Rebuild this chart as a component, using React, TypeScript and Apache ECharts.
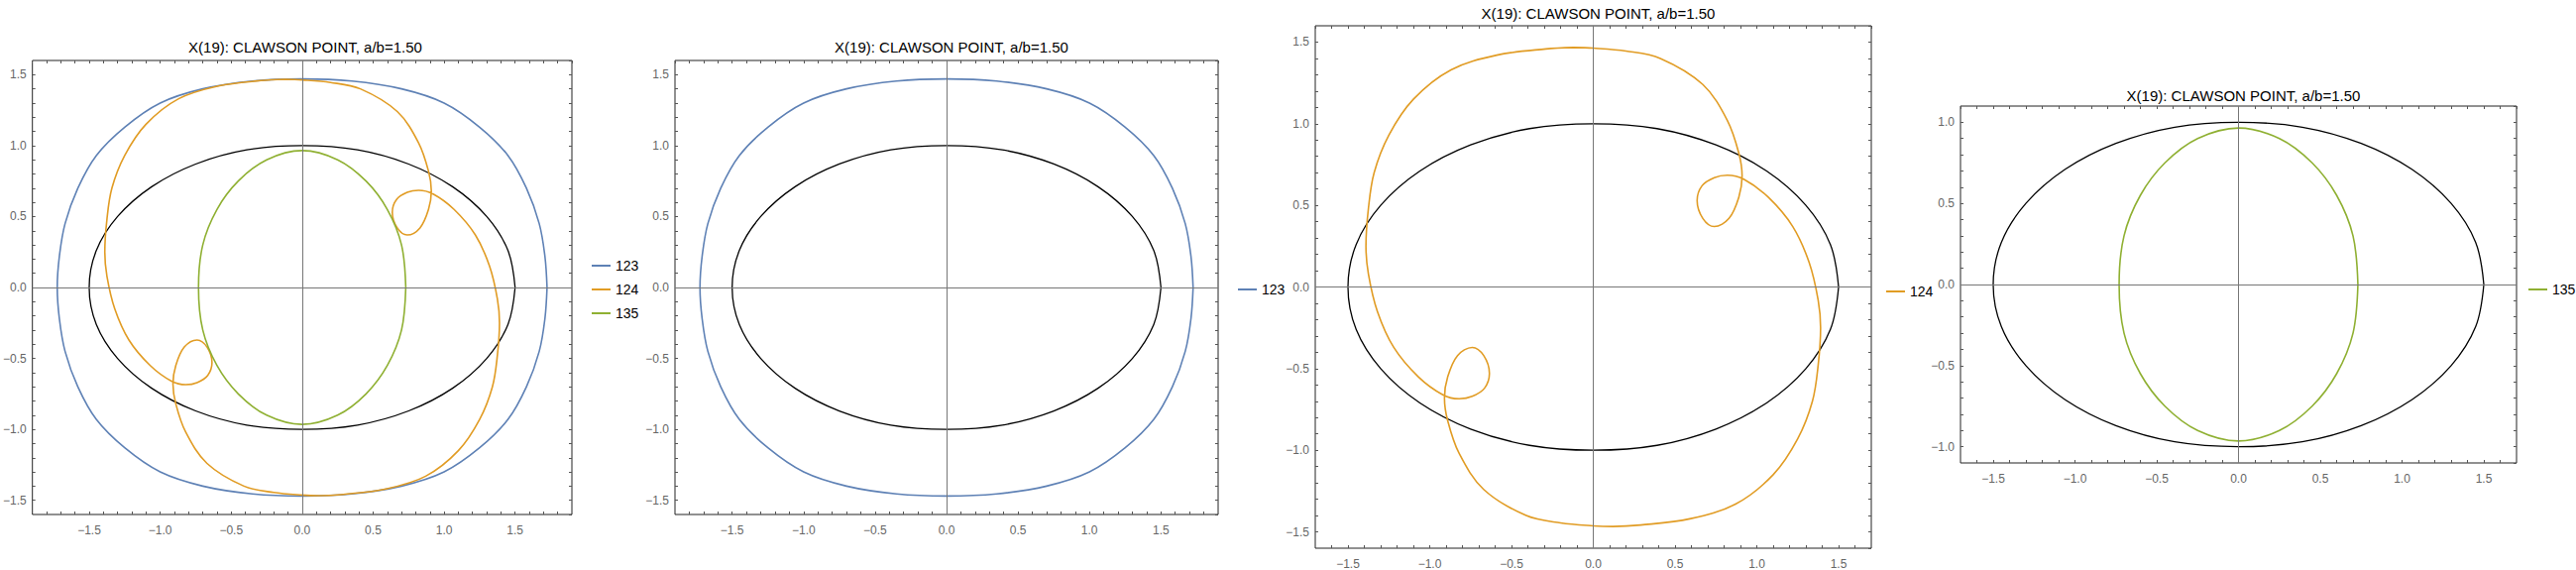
import React, { useRef, useEffect } from 'react';
import * as echarts from 'echarts';

const TITLE = 'X(19): CLAWSON POINT, a/b=1.50';

// black reference ellipse
const ellipse: number[][] = [
  [1.5, 0], [1.45, 0.26], [1.3, 0.5], [1.06, 0.71], [0.75, 0.87], [0.39, 0.97], [0, 1],
  [-0.39, 0.97], [-0.75, 0.87], [-1.06, 0.71], [-1.3, 0.5], [-1.45, 0.26], [-1.5, 0],
  [-1.45, -0.26], [-1.3, -0.5], [-1.06, -0.71], [-0.75, -0.87], [-0.39, -0.97], [0, -1],
  [0.39, -0.97], [0.75, -0.87], [1.06, -0.71], [1.3, -0.5], [1.45, -0.26], [1.5, 0],
];

// curve 123
const curve123: number[][] = [
  [1.725, 0], [1.71, 0.22], [1.67, 0.45], [1.58, 0.7], [1.45, 0.93], [1.25, 1.13], [1.0, 1.3],
  [0.7, 1.4], [0.35, 1.455], [0, 1.47], [-0.35, 1.455], [-0.7, 1.4], [-1.0, 1.3], [-1.25, 1.13],
  [-1.45, 0.93], [-1.58, 0.7], [-1.67, 0.45], [-1.71, 0.22], [-1.725, 0], [-1.71, -0.22],
  [-1.67, -0.45], [-1.58, -0.7], [-1.45, -0.93], [-1.25, -1.13], [-1.0, -1.3], [-0.7, -1.4],
  [-0.35, -1.455], [0, -1.47], [0.35, -1.455], [0.7, -1.4], [1.0, -1.3], [1.25, -1.13],
  [1.45, -0.93], [1.58, -0.7], [1.67, -0.45], [1.71, -0.22], [1.725, 0],
];

// curve 124
const curve124: number[][] = [
  [-0.12, 1.467], [0.0, 1.463], [0.2, 1.445], [0.41, 1.4], [0.67, 1.24], [0.82, 1.02], [0.89, 0.82],
  [0.91, 0.68], [0.89, 0.55], [0.83, 0.42], [0.74, 0.37], [0.67, 0.42], [0.635, 0.53],
  [0.665, 0.62], [0.74, 0.67], [0.82, 0.685], [0.92, 0.66], [1.07, 0.55], [1.22, 0.37],
  [1.32, 0.15], [1.375, -0.08], [1.39, -0.25], [1.375, -0.48], [1.34, -0.7], [1.25, -0.93],
  [1.1, -1.15], [0.87, -1.33], [0.59, -1.42], [0.29, -1.458], [0.12, -1.467],
  [0.0, -1.463], [-0.2, -1.445], [-0.41, -1.4], [-0.67, -1.24], [-0.82, -1.02], [-0.89, -0.82],
  [-0.91, -0.68], [-0.89, -0.55], [-0.83, -0.42], [-0.74, -0.37], [-0.67, -0.42], [-0.635, -0.53],
  [-0.665, -0.62], [-0.74, -0.67], [-0.82, -0.685], [-0.92, -0.66], [-1.07, -0.55], [-1.22, -0.37],
  [-1.32, -0.15], [-1.375, 0.08], [-1.39, 0.25], [-1.375, 0.48], [-1.34, 0.7], [-1.25, 0.93],
  [-1.1, 1.15], [-0.87, 1.33], [-0.59, 1.42], [-0.29, 1.458], [-0.12, 1.467],
];

// curve 135
const curve135: number[][] = [
  [0.73, 0], [0.7, 0.3], [0.6, 0.55], [0.45, 0.75], [0.25, 0.9], [0, 0.965],
  [-0.25, 0.9], [-0.45, 0.75], [-0.6, 0.55], [-0.7, 0.3], [-0.73, 0], [-0.7, -0.3],
  [-0.6, -0.55], [-0.45, -0.75], [-0.25, -0.9], [0, -0.965], [0.25, -0.9], [0.45, -0.75],
  [0.6, -0.55], [0.7, -0.3], [0.73, 0],
];

const COLORS: Record<string, string> = { '123': '#5e81b5', '124': '#e19c24', '135': '#8fb032' };
const CURVES: Record<string, number[][]> = { '123': curve123, '124': curve124, '135': curve135 };

const panels = [
  { left: 29, top: 61, width: 548, height: 458, xr: 1.9, yr: 1.6, titleTop: 35, names: ['123', '124', '135'], legendLeft: 592, legendTop: 256 },
  { left: 681, top: 61, width: 548, height: 458, xr: 1.9, yr: 1.6, titleTop: 35, names: ['123'], legendLeft: 1244, legendTop: 280 },
  { left: 1327, top: 26, width: 561, height: 528, xr: 1.7, yr: 1.6, titleTop: 1, names: ['124'], legendLeft: 1898, legendTop: 282 },
  { left: 1978, top: 107, width: 561, height: 360, xr: 1.7, yr: 1.1, titleTop: 84, names: ['135'], legendLeft: 2546, legendTop: 280 },
];

const fmt = (v: number) => {
  const m = v * 2;
  if (Math.abs(m - Math.round(m)) > 1e-6) return '';
  return v.toFixed(1).replace('-', '\u2212');
};

const App: React.FC = () => {
  const ref = useRef<HTMLDivElement>(null);

  useEffect(() => {
    if (!ref.current) return;
    const chart = echarts.init(ref.current, null, { renderer: 'svg' });

    const grid: any[] = [];
    const xAxis: any[] = [];
    const yAxis: any[] = [];
    const series: any[] = [];
    const title: any[] = [];
    const legend: any[] = [];

    panels.forEach((p, i) => {
      grid.push({ left: p.left, top: p.top, width: p.width, height: p.height, show: true, borderColor: '#222', borderWidth: 1 });
      const base = (min: number, max: number) => ({
        type: 'value', gridIndex: i, min, max, interval: 0.1,
        axisLine: { show: false, onZero: false }, splitLine: { show: false },
        axisTick: { show: true, inside: true, length: 3, lineStyle: { color: '#555' } },
      });
      const label = { show: true, formatter: fmt, color: '#666', fontSize: 12, fontFamily: 'Liberation Sans', showMinLabel: false, showMaxLabel: false };
      xAxis.push({ ...base(-p.xr, p.xr), position: 'bottom', axisLabel: { ...label, margin: 10 } });
      xAxis.push({ ...base(-p.xr, p.xr), position: 'top', axisLabel: { show: false } });
      yAxis.push({ ...base(-p.yr, p.yr), position: 'left', axisLabel: { ...label, margin: 6 } });
      yAxis.push({ ...base(-p.yr, p.yr), position: 'right', axisLabel: { show: false } });

      title.push({
        text: TITLE, left: p.left + p.width / 2, top: p.titleTop, textAlign: 'center',
        textStyle: { fontSize: 15, fontWeight: 'normal', color: '#000', fontFamily: 'Liberation Sans' },
      });

      series.push({
        type: 'line', xAxisIndex: 2 * i, yAxisIndex: 2 * i, data: ellipse, smooth: 0.35,
        showSymbol: false, silent: true, lineStyle: { color: '#000', width: 1.3 },
        markLine: {
          silent: true, symbol: ['none', 'none'], label: { show: false },
          lineStyle: { color: '#777', width: 1, type: 'solid' },
          data: [{ xAxis: 0 }, { yAxis: 0 }],
        },
      });
      p.names.forEach((n) => {
        series.push({
          name: n, type: 'line', xAxisIndex: 2 * i, yAxisIndex: 2 * i, data: CURVES[n], smooth: 0.35,
          showSymbol: false, color: COLORS[n], lineStyle: { color: COLORS[n], width: 1.6 },
        });
      });

      legend.push({
        data: p.names, orient: 'vertical', left: p.legendLeft, top: p.legendTop,
        icon: 'rect', itemWidth: 19, itemHeight: 2, itemGap: 10,
        textStyle: { fontSize: 14, color: '#000', fontFamily: 'Liberation Sans' },
      });
    });

    chart.setOption({ animation: false, backgroundColor: '#fff', grid, xAxis, yAxis, series, title, legend });
    return () => chart.dispose();
  }, []);

  return <div ref={ref} style={{ position: 'absolute', left: 0, top: 0, width: 2599, height: 575 }} />;
};

export default App;
